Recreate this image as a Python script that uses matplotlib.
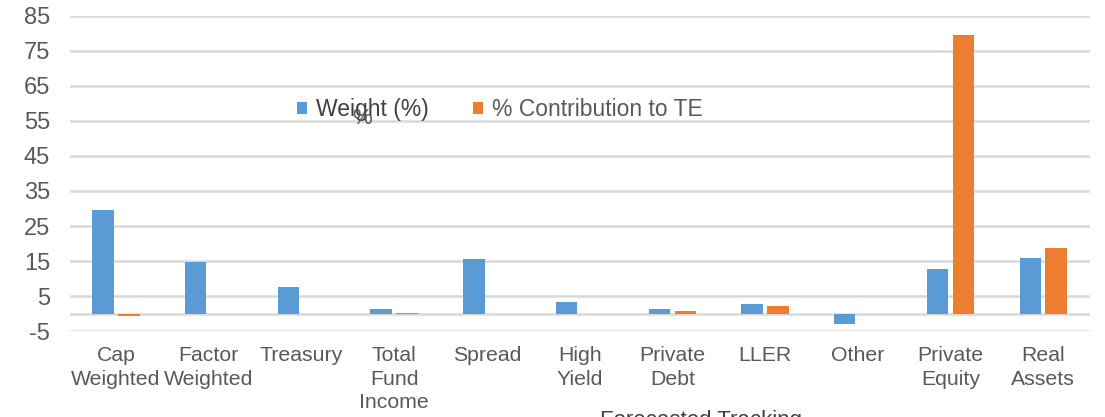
import matplotlib.pyplot as plt
import numpy as np

plt.rcParams['font.family'] = ['Liberation Sans', 'DejaVu Sans']
plt.rcParams['axes.unicode_minus'] = False

categories = ['Cap\nWeighted', 'Factor\nWeighted', 'Treasury', 'Total\nFund\nIncome', 'Spread',
              'High\nYield', 'Private\nDebt', 'LLER', 'Other', 'Private\nEquity', 'Real\nAssets']
weight = [29.6, 14.7, 7.5, 1.4, 15.6, 3.3, 1.2, 2.7, -3.0, 12.7, 15.9]
contrib = [-0.8, 0.0, 0.0, 0.3, 0.0, 0.0, 0.7, 2.2, 0.0, 79.6, 18.7]
yticks = [-5, 5, 15, 25, 35, 45, 55, 65, 75, 85]

blue = '#5B9BD5'
orange = '#ED7D31'
txt = '#595959'
grid = '#D9D9D9'

fig = plt.figure(figsize=(11.05, 4.17), dpi=100)
ax = fig.add_axes([0.063, 0.206, 0.923, 0.756])

x = np.arange(len(categories))
w = 0.23
ax.bar(x - 0.14, weight, w, color=blue, label='Weight (%)', zorder=3)
ax.bar(x + 0.14, contrib, w, color=orange, label='% Contribution to TE', zorder=3)

ax.set_xlim(-0.5, len(categories) - 0.5)
ax.set_ylim(-5, 85)
ax.set_yticks(yticks)
for t in yticks:
    ax.axhline(t, color=grid, lw=1.8, zorder=1)
ax.axhline(0, color=grid, lw=1.8, zorder=1)

ax.set_xticks(x)
ax.set_xticklabels(categories, linespacing=1.3)
ax.tick_params(axis='both', length=0, labelcolor=txt)
ax.tick_params(axis='x', labelsize=15.3, pad=11)
ax.tick_params(axis='y', labelsize=17, pad=14)
for s in ax.spines.values():
    s.set_visible(False)

leg = ax.legend(loc='center', bbox_to_anchor=(0.422, 0.702), ncol=2, frameon=False,
                fontsize=16.5, handlelength=0.45, handleheight=0.45, handletextpad=0.4,
                columnspacing=1.9, labelcolor=txt)
leg.get_texts()[0].set_color('#404040')

fig.text(362 / 1105, 1 - 118 / 417, '%', fontsize=16, color=txt, ha='center', va='center')
fig.text(600 / 1105, 1 - 410 / 417, 'Forecasted Tracking', fontsize=16, color='#404040',
         ha='left', va='top')

fig.savefig('out.png', dpi=100)
